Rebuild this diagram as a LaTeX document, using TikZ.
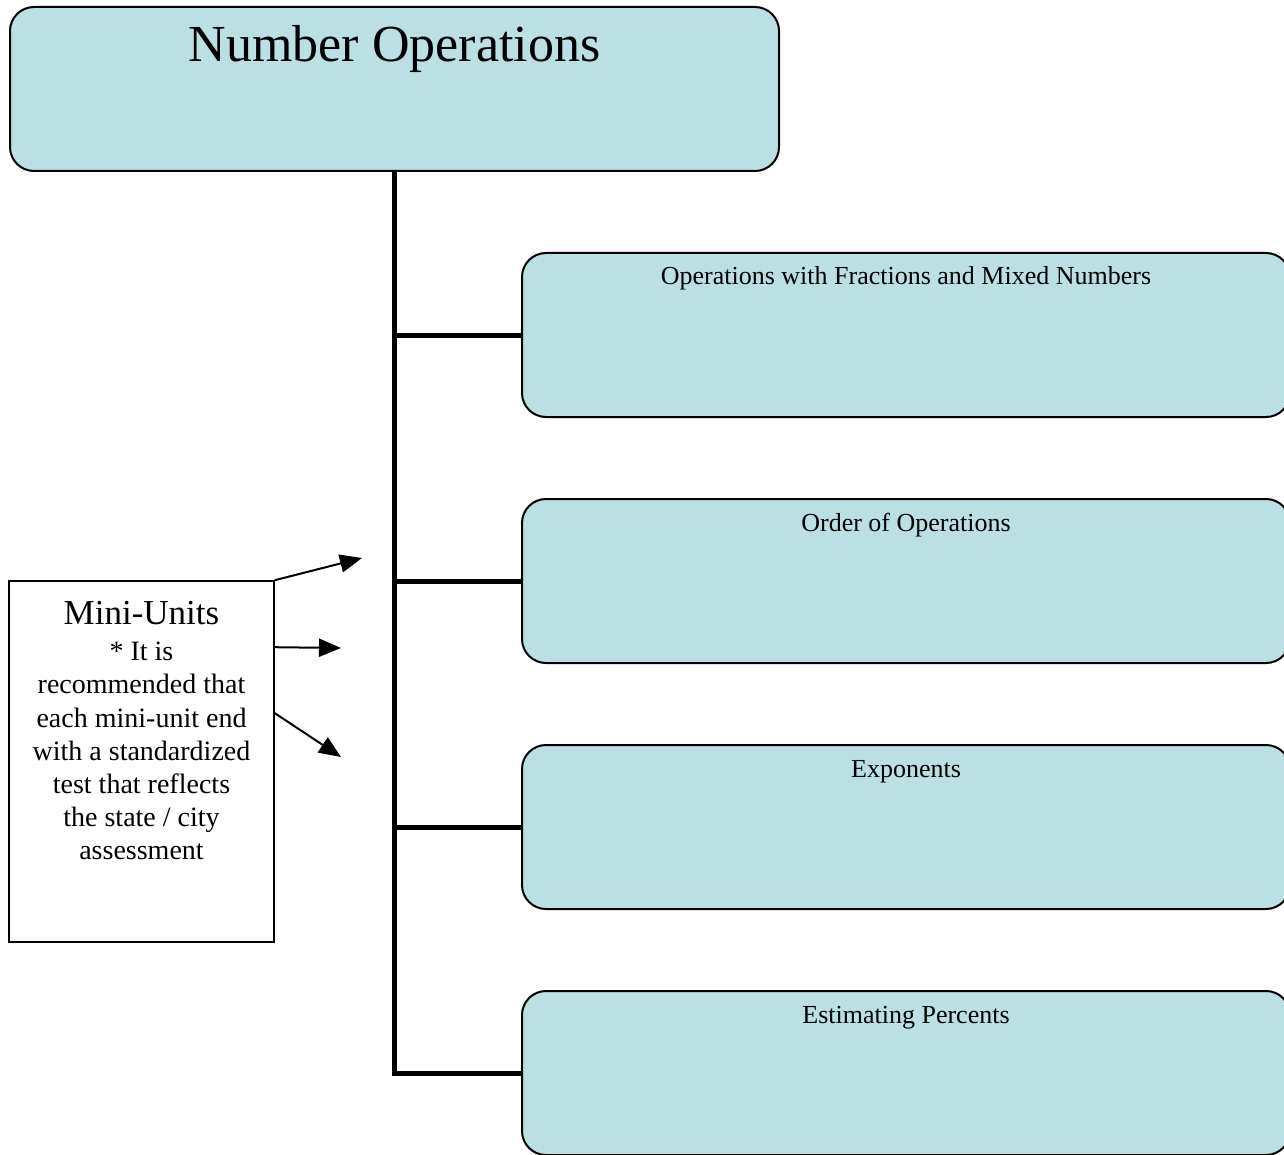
\documentclass[tikz,border=0pt]{standalone}
\usepackage{fontspec}
\setmainfont{Liberation Serif}
\usetikzlibrary{arrows.meta}
\definecolor{boxblue}{RGB}{186,224,227}

\begin{document}
\begin{tikzpicture}
		[x=0.5pt,y=-0.5pt,
		box/.style= {draw=black,line width=1pt,fill=boxblue,rounded corners=12pt,inner sep=0pt},
		topic/.style= {box,minimum width=384.5pt,text height=27.5pt,text depth=54.5pt,font=\fontsize{26}{30}\selectfont},
		sub/.style= {box,minimum width=384pt,text height=16pt,text depth=66pt,font=\fontsize{13}{16}\selectfont},
		note/.style= {draw=black,line width=0.8pt,fill=white,minimum width=132.5pt,minimum height=180.5pt,inner sep=0pt},
		notetext/.style= {anchor=north,align=center,inner sep=0pt,font=\fontsize{14}{16.6}\selectfont},
		branch/.style= {line width=2.5pt,to path={|- (\tikztotarget)}},
		arr/.style= {line width=1pt,-{Triangle[length=11pt,width=9pt]}}]

		\path[use as bounding box,clip] (0,0) rectangle (1284,1155);

		\node[topic] (top) at (394.5,89) {Number Operations};

		\node[sub] (s1) at (906,335) {Operations with Fractions and Mixed Numbers};
		\node[sub] (s2) at (906,581) {Order of Operations};
		\node[sub] (s3) at (906,827) {Exponents};
		\node[sub] (s4) at (906,1073) {Estimating Percents};

		\path (top.south)
			edge [branch]	(s1.west)
			edge [branch]	(s2.west)
			edge [branch]	(s3.west)
			edge [branch]	(s4.west)
		;

		% mini-units note
		\node[note] (mini) at (141.5,761.5) {};
		\node[notetext] (minitext) at ([yshift=-10.5pt]mini.north)
			{{\fontsize{17.5}{21}\selectfont Mini-Units}\\[1.4pt]
			* It is\\ recommended that\\ each mini-unit end\\ with a standardized\\
			test that reflects\\ the state / city\\ assessment};

		\coordinate (p1) at (362,558);
		\coordinate (p2) at (341,648);
		\coordinate (p3) at (341,757);

		\draw[arr] (mini.north east) -- (p1);
		\draw[arr] ([yshift=-33.5pt]mini.north east) -- (p2);
		\draw[arr] ([yshift=-66.5pt]mini.north east) -- (p3);

	\end{tikzpicture}
\end{document}
